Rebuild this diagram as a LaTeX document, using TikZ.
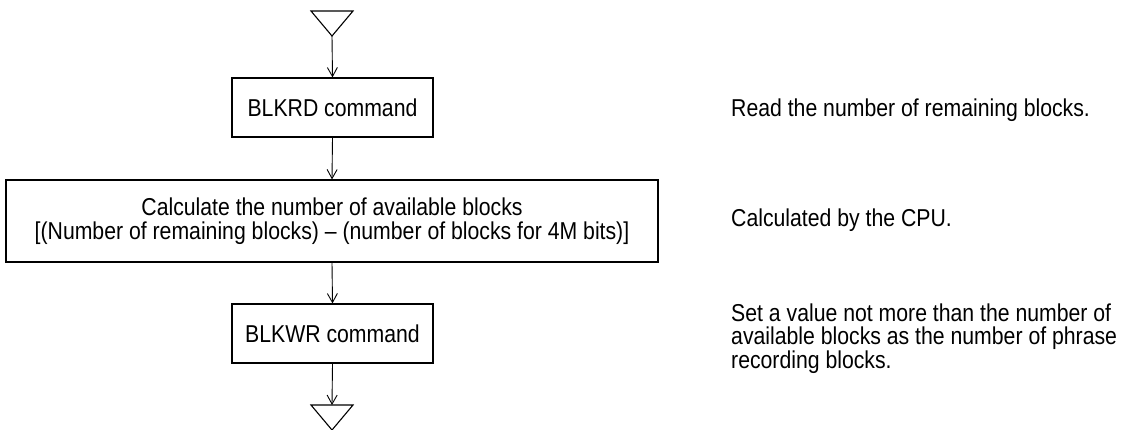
\documentclass[tikz,border=0pt]{standalone}
\usepackage{fontspec}
\setmainfont{Liberation Sans}[FakeStretch=0.87]
\usetikzlibrary{arrows.meta}
\begin{document}
\begin{tikzpicture}[x=1pt,y=-1pt,
  every node/.style={font=\fontsize{24.4}{24.2}\selectfont},
  box/.style={draw,line width=1.2pt,inner sep=0pt,align=center},
  conn/.style={line width=0.9pt,-{Straight Barb[length=9pt,width=10pt,line width=0.9pt]}},
  tri/.style={line width=1.1pt,line join=miter},
  note/.style={inner sep=0pt,anchor=base west,align=left}]
\useasboundingbox (0,0) rectangle (1127,429);
% top triangle
\draw[tri] (311,11) -- (353,11) -- (332,36) -- cycle;
\coordinate (t1) at (332,36);
% boxes
\node[box,minimum width=201pt,minimum height=59pt] (b1) at (332.5,107.5) {BLKRD command};
\node[box,minimum width=652pt,minimum height=82pt] (b2) at (332,221) {Calculate the number of available blocks\\\relax[(Number of remaining blocks) – (number of blocks for 4M bits)]};
\node[box,minimum width=201pt,minimum height=59pt] (b3) at (332.5,333.5) {BLKWR command};
% bottom triangle
\draw[tri] (311,405) -- (353,405) -- (332,430) -- cycle;
\coordinate (t2) at (332,405);
% connectors
\draw[conn] (t1) -- (b1.north);
\draw[conn] (b1.south) -- (b2.north);
\draw[conn] (b2.south) -- (b3.north);
\draw[conn] (b3.south) -- (t2);
% notes
\node[note] (n1) at (731,116) {Read the number of remaining blocks.};
\node[note] (n2) at (731,226) {Calculated by the CPU.};
\node[note,font=\fontsize{24.4}{23.5}\selectfont] (n3) at (731,368) {Set a value not more than the number of\\available blocks as the number of phrase\\recording blocks.};
\end{tikzpicture}
\end{document}
